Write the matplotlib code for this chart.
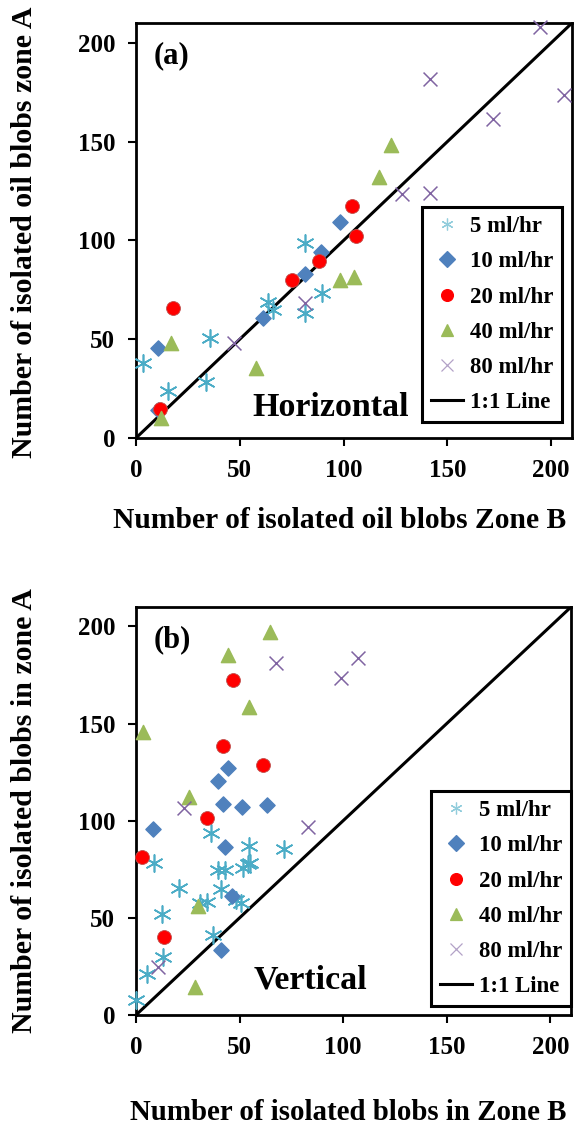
import matplotlib
matplotlib.use("Agg")
import matplotlib.pyplot as plt
from matplotlib.lines import Line2D

plt.rcParams['font.family'] = ['Liberation Serif', 'DejaVu Serif']
plt.rcParams['font.weight'] = 'bold'

# ---- data: panel (a) horizontal ----
h5_x = [3.5, 15.6, 33.8, 35.7, 63.4, 66.0, 81.6, 81.6, 89.7]
h5_y = [37.8, 24.0, 28.5, 50.5, 69.0, 64.8, 98.9, 63.1, 73.6]
h10_x = [10.8, 10.5, 61.2, 81.6, 88.9, 98.2]
h10_y = [45.4, 14.0, 60.6, 83.0, 94.3, 109.2]
h20_x = [17.7, 11.6, 74.9, 88.0, 103.9, 105.8]
h20_y = [65.7, 14.7, 79.7, 89.8, 117.2, 102.0]
h40_x = [16.8, 11.9, 58.0, 98.2, 105.0, 117.0, 123.0]
h40_y = [48.0, 10.0, 35.3, 80.0, 81.7, 132.3, 148.4]
h80_x = [47.0, 81.6, 127.9, 141.7, 141.7, 172.1, 194.4, 206.0]
h80_y = [48.3, 68.5, 123.5, 124.2, 181.6, 161.3, 207.9, 173.7]

# ---- data: panel (b) vertical ----
v5_x = [0.0, 5.5, 13.2, 12.4, 8.7, 20.9, 30.9, 34.1, 36.2, 37.3, 39.5, 43.0,
        40.9, 48.3, 50.7, 51.5, 54.3, 55.1, 54.7, 71.5]
v5_y = [7.8, 21.2, 29.8, 52.2, 78.4, 65.5, 57.7, 58.0, 93.9, 41.3, 74.6, 74.6,
        64.6, 59.4, 57.4, 75.8, 77.5, 78.4, 87.0, 85.3]
v10_x = [8.4, 39.8, 44.6, 41.9, 51.0, 63.1, 43.0, 46.2, 40.9]
v10_y = [95.6, 120.6, 127.1, 108.5, 107.3, 108.2, 86.7, 61.1, 33.6]
v20_x = [2.7, 13.5, 34.5, 41.9, 46.7, 61.2]
v20_y = [81.5, 40.0, 101.3, 138.7, 172.3, 128.8]
v40_x = [3.5, 25.8, 29.8, 28.5, 44.6, 54.7, 64.7]
v40_y = [145.6, 112.0, 56.0, 14.3, 185.2, 158.5, 196.9]
v80_x = [10.8, 23.2, 67.6, 82.9, 98.9, 107.4]
v80_y = [24.6, 106.3, 181.4, 96.8, 173.5, 183.5]

labels = ['5 ml/hr', '10 ml/hr', '20 ml/hr', '40 ml/hr', '80 ml/hr']
ticks = [0, 50, 100, 150, 200]
lim = 210

W, H = 576, 1128
fig = plt.figure(figsize=(W / 100, H / 100), dpi=100)

styles = [
    dict(marker=(6, 2, 0), color='#4BACC6', s=150, linewidths=1.2),
    dict(marker='D', color='#4F81BD', s=60, edgecolors='#4F81BD'),
    dict(marker='o', color='#FF0000', s=100, edgecolors='#C0504D', linewidths=0.6),
    dict(marker='^', color='#9BBB59', s=105, edgecolors='#9BBB59'),
    dict(marker='x', color='#8064A2', s=100, linewidths=1.1),
]
leg_colors = ['#92CDDC', '#4F81BD', '#FF0000', '#9BBB59', '#B3A2C7']


def make_panel(rect, series, tag, name, xlabel, ylabel, leg_anchor, xl_pos, yl_pos,
               xl_size=21.5):
    left, top, right, bottom = rect
    ax = fig.add_axes([left / W, 1 - bottom / H, (right - left) / W, (bottom - top) / H])
    for (xs, ys), st in zip(series, styles):
        ax.scatter(xs, ys, zorder=3, clip_on=False, **st)
    ax.plot([0, lim], [0, lim], color='black', lw=2.2, zorder=2)
    ax.set_xlim(0, lim)
    ax.set_ylim(0, lim)
    ax.set_xticks(ticks)
    ax.set_yticks(ticks)
    ax.tick_params(direction='out', length=6, width=1.5, labelsize=18, pad=9)
    for t in ax.get_xticklabels() + ax.get_yticklabels():
        t.set_fontweight('bold')
    for sp in ax.spines.values():
        sp.set_linewidth(2)

    handles = []
    for lab, st, c in zip(labels, styles, leg_colors):
        handles.append(Line2D([], [], ls='none', marker=st['marker'], color=c,
                              markersize=8.5, markeredgewidth=0.9, label=lab))
    handles.append(Line2D([], [], color='black', lw=2.2, label='1:1 Line'))
    leg = ax.legend(handles=handles, loc='lower right', bbox_to_anchor=leg_anchor,
                    borderaxespad=0, fancybox=False, framealpha=1, edgecolor='black',
                    prop=dict(size=16.5, weight='bold'), handlelength=1.4,
                    handletextpad=0.3, labelspacing=0.62, borderpad=0.38)
    leg.get_frame().set_linewidth(2.2)

    ax.text(0.04, 0.955, tag, transform=ax.transAxes, fontsize=22, fontweight='bold',
            va='top', ha='left')
    ax.text(name[1], name[2], name[0], transform=ax.transAxes, fontsize=24.5,
            fontweight='bold', ha='left', va='baseline')

    fig.text(xl_pos[0] / W, 1 - xl_pos[1] / H, xlabel, fontsize=xl_size, fontweight='bold',
             ha='left', va='center')
    fig.text(yl_pos[0] / W, 1 - yl_pos[1] / H, ylabel, fontsize=21.5, fontweight='bold',
             rotation=90, ha='center', va='center')
    return ax


make_panel((136, 23, 572, 438),
           [(h5_x, h5_y), (h10_x, h10_y), (h20_x, h20_y), (h40_x, h40_y), (h80_x, h80_y)],
           '(a)', ('Horizontal', 0.268, 0.053),
           'Number of isolated oil blobs Zone B', 'Number of isolated oil blobs zone A',
           (0.977, 0.0386), (113, 521), (25, 232), xl_size=21.3)

make_panel((136, 607, 571, 1015),
           [(v5_x, v5_y), (v10_x, v10_y), (v20_x, v20_y), (v40_x, v40_y), (v80_x, v80_y)],
           '(b)', ('Vertical', 0.27, 0.066),
           'Number of isolated blobs in Zone B', 'Number of isolated blobs in zone A',
           (1.0, 0.022), (130, 1113), (25, 811), xl_size=20.8)

fig.savefig('out.png', dpi=100)
